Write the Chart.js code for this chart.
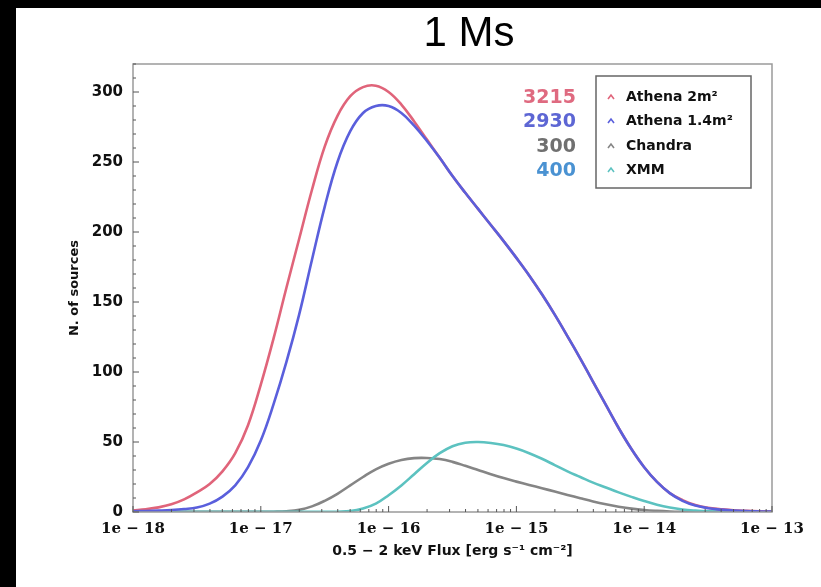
<!DOCTYPE html>
<html><head><meta charset="utf-8">
<script src="https://cdn.jsdelivr.net/npm/chart.js@4/dist/chart.umd.min.js"></script>
<style>
html,body{margin:0;padding:0;background:#000;width:821px;height:587px;overflow:hidden}
#wrap{position:absolute;left:16px;top:8px;width:805px;height:579px;background:#fff}
canvas{display:block}
</style></head><body><div id="wrap"><canvas id="c" width="805" height="579"></canvas></div>
<script>
// log10 of 0.5-2 keV flux (erg s^-1 cm^-2)
const logFlux = [-18.0,-17.9,-17.8,-17.7,-17.6,-17.5,-17.4,-17.3,-17.2,-17.1,-17.0,-16.9,-16.8,-16.7,-16.6,-16.5,-16.4,-16.3,-16.2,-16.1,-16.0,-15.9,-15.8,-15.7,-15.6,-15.5,-15.4,-15.3,-15.2,-15.1,-15.0,-14.9,-14.8,-14.7,-14.6,-14.5,-14.4,-14.3,-14.2,-14.1,-14.0,-13.9,-13.8,-13.7,-13.6,-13.5,-13.4,-13.3,-13.2,-13.1,-13.0];
const athena2 = [1.2,2,3.3,5.5,9,14,20,29,42,62,91,124,160,195,230,261,283,297,303.5,304.5,300,291,279,266,253,240,228,216.5,205,193.5,181.5,169,155.5,141,125.5,109.5,93,76.5,60,45,32,21.5,13.5,8.5,5,3,2,1.2,0.8,0.5,0.3];
const athena14 = [0.5,0.7,1,1.4,2.1,3.2,6,11,19,32,51,77,107,141,180,218,250,272,285,290,290,285,276,265,253,240,228,216.5,205,193.5,181.5,169,155.5,141,125.5,109.5,93,76.5,60,45,32,21.5,13.5,8,4.6,2.7,1.7,1,0.6,0.4,0.3];
const chandra = [0.1,0.1,0.1,0.1,0.1,0.1,0.1,0.1,0.1,0.1,0.1,0.2,0.5,1.5,4,8,13,19,25,30.5,34.5,37.2,38.5,38.6,37.8,35.8,33,30,27,24.2,21.7,19.3,17,14.6,12.2,9.8,7.5,5.5,3.8,2.4,1.4,0.8,0.4,0.2,0.1,0.1,0.1,0.1,0.1,0.1,0.1];
const xmm = [0.1,0.1,0.1,0.1,0.1,0.1,0.1,0.1,0.1,0.1,0.1,0.1,0.1,0.1,0.1,0.1,0.2,0.6,2.5,6,12,19,27,35,42,47,49.5,50,49.3,47.8,45.3,42,38,33.5,29,25,21,17.5,14,10.8,7.8,5.2,3.2,1.8,1,0.5,0.3,0.15,0.15,0.15,0.15];
const seriesNames = ['Athena 2m²','Athena 1.4m²','Chandra','XMM'];
const seriesTotals = ['3215','2930','300','400'];
const xTickExponents = [-18,-17,-16,-15,-14,-13];
const yTickValues = [0,50,100,150,200,250,300];

const lineColors = ['#e0647a','#5a5fdc','#858585','#5cc2c0'];
const totalColors = ['#df6a80','#5d66d4','#707070','#4a92d2'];

function pts(arr){ return logFlux.map((e,i)=>({x:e,y:arr[i]})); }

const frameAndLegend = {
  id:'frameAndLegend',
  afterDraw(chart){
    const ctx = chart.ctx, ca = chart.chartArea;
    const xs = chart.scales.x, ys = chart.scales.y;
    ctx.save();
    ctx.strokeStyle = '#9a9a9a'; ctx.lineWidth = 1.5;
    ctx.strokeRect(ca.left, ca.top, ca.right-ca.left, ca.bottom-ca.top);
    ctx.strokeStyle = '#555'; ctx.lineWidth = 1;
    ctx.beginPath();
    for (let d=-18; d<=-13; d++){
      const px = xs.getPixelForValue(d);
      ctx.moveTo(px, ca.bottom); ctx.lineTo(px, ca.bottom-6);
      if (d < -13) for (let k=2;k<=9;k++){
        const p = xs.getPixelForValue(d+Math.log10(k));
        ctx.moveTo(p, ca.bottom); ctx.lineTo(p, ca.bottom-3);
      }
    }
    for (let v=0; v<=320; v+=10){
      const py = ys.getPixelForValue(v);
      const len = (v%50===0)?6:3;
      ctx.moveTo(ca.left, py); ctx.lineTo(ca.left+len, py);
    }
    ctx.stroke();
    ctx.fillStyle = '#000';
    ctx.font = '42px "Liberation Sans"';
    ctx.textAlign = 'center'; ctx.textBaseline = 'middle';
    ctx.fillText('1 Ms', 453, 26);
    const bw = 155, bh = 112;
    const bx = ca.right - 21 - bw, by = ca.top + 12;
    ctx.fillStyle = '#fff';
    ctx.fillRect(bx, by, bw, bh);
    ctx.strokeStyle = '#666'; ctx.lineWidth = 1.5;
    ctx.strokeRect(bx, by, bw, bh);
    const rows = [21, 45, 70, 94];
    chart.data.datasets.forEach((ds, i)=>{
      const cy = by + rows[i];
      ctx.strokeStyle = ds.borderColor; ctx.lineWidth = 1.6;
      ctx.beginPath();
      ctx.moveTo(bx+12, cy+2); ctx.lineTo(bx+15, cy-2); ctx.lineTo(bx+18, cy+2);
      ctx.stroke();
      ctx.fillStyle = '#111';
      ctx.font = 'bold 14px "DejaVu Sans"';
      ctx.textAlign = 'left'; ctx.textBaseline = 'middle';
      ctx.fillText(ds.label, bx+30, cy);
      ctx.fillStyle = totalColors[i];
      ctx.font = 'bold 19px "DejaVu Sans"';
      ctx.textAlign = 'right';
      ctx.fillText(seriesTotals[i], bx-20, cy+1);
    });
    ctx.restore();
  }
};

const dataArrs = [athena2, athena14, chandra, xmm];
const orders = [2,1,4,3];

new Chart(document.getElementById('c').getContext('2d'), {
  type:'line',
  data:{
    datasets: dataArrs.map((arr,i)=>({
      label: seriesNames[i],
      data: pts(arr),
      borderColor: lineColors[i],
      backgroundColor: lineColors[i],
      borderWidth: 2.6,
      pointRadius: 0,
      fill: false,
      tension: 0.4,
      order: orders[i]
    }))
  },
  options:{
    responsive:false,
    animation:false,
    layout:{padding:{left:0,right:49,top:56,bottom:0}},
    plugins:{legend:{display:false}, title:{display:false}, tooltip:{enabled:false}},
    scales:{
      x:{
        type:'linear', min:-18, max:-13,
        afterBuildTicks: s => { s.ticks = xTickExponents.map(v=>({value:v})); },
        ticks:{
          callback: v => '1e − ' + Math.abs(v),
          font:{family:'DejaVu Serif', weight:'bold', size:15},
          color:'#111', padding:8, maxRotation:0, autoSkip:false
        },
        grid:{display:false, drawTicks:false},
        border:{display:false},
        title:{display:true, text:'0.5 − 2 keV Flux [erg s⁻¹ cm⁻²]',
          font:{family:'DejaVu Sans', weight:'bold', size:14}, color:'#111',
          padding:{top:0,bottom:27}},
        afterFit: s => { s.height = 75; }
      },
      y:{
        min:0, max:320,
        afterBuildTicks: s => { s.ticks = yTickValues.map(v=>({value:v})); },
        ticks:{
          font:{family:'DejaVu Sans', weight:'bold', size:15},
          color:'#111', padding:10
        },
        grid:{display:false, drawTicks:false},
        border:{display:false},
        title:{display:true, text:'N. of sources',
          font:{family:'DejaVu Sans', weight:'bold', size:13}, color:'#111',
          padding:{top:51,bottom:0}},
        afterFit: s => { s.width = 117; }
      }
    }
  },
  plugins:[frameAndLegend]
});
</script></body></html>
